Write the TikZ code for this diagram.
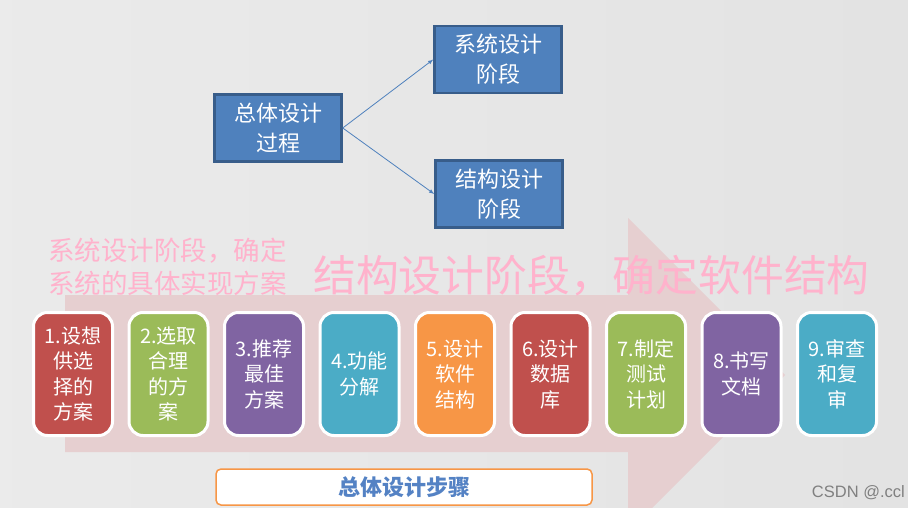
\documentclass[tikz,border=0pt]{standalone}
\usepackage{fontspec}
\setmainfont{Noto Sans CJK SC}
\newfontfamily\marksans{Liberation Sans}
\usetikzlibrary{positioning}

\definecolor{phaseblue}{RGB}{79,129,189}
\definecolor{phaseedge}{RGB}{56,93,138}
\definecolor{steprose}{RGB}{192,80,77}
\definecolor{stepgreen}{RGB}{155,187,89}
\definecolor{steppurple}{RGB}{128,100,162}
\definecolor{stepcyan}{RGB}{75,172,198}
\definecolor{steporange}{RGB}{247,150,70}
\definecolor{arrowpink}{RGB}{230,207,208}
\definecolor{notepink}{RGB}{255,178,204}
\definecolor{labelblue}{RGB}{84,130,196}

\tikzset{
  phasebox/.style = {draw = phaseedge, line width = 2.5pt, fill = phaseblue, text = white,
    minimum width = 127pt, minimum height = 67pt, align = center, inner sep = 0pt,
    font = \fontsize{22}{30}\selectfont},
  stepbox/.style = {draw = white, line width = 3pt, rounded corners = 14pt,
    minimum width = 79pt, minimum height = 123pt, text = white, align = center,
    inner sep = 0pt, font = \fontsize{20}{25.5}\selectfont},
  notetext/.style = {anchor = west, inner sep = 0pt, text = notepink, align = left},
  link/.style = {phaseblue, line width = 0.8pt, -latex},
}

\begin{document}
\begin{tikzpicture} [x = 1pt, y = -1pt]
	\useasboundingbox (0,0) rectangle (908,508);
	\shade [left color = gray!16, middle color = white, right color = gray!22] (0,0) rectangle (908,508);
	% big arrow behind the steps
	\begin{scope}
	\clip (0,0) rectangle (908,508);
	\fill [arrowpink] (65,295) -- (628,295) -- (628,218) -- (785,375) -- (628,532) -- (628,452) -- (65,452) -- cycle;
	\end{scope}

	\node [phasebox] (overall) at (278,128) {总体设计\\过程};
	\node [phasebox] (sysphase) at (498,59.5) {系统设计\\阶段};
	\node [phasebox] (structphase) at (499,194) {结构设计\\阶段};
	\draw [link] (overall.east) -- (sysphase.west);
	\draw [link] (overall.east) -- (structphase.west);

	\node [notetext, font = \fontsize{26.5}{33}\selectfont] (sysnote) at (48,266.5) {系统设计阶段，确定\\系统的具体实现方案};
	\node [notetext, font = \fontsize{42.8}{50}\selectfont] (structnote) at (313,276) {结构设计阶段，确定软件结构};

	\foreach \col/\txt [count = \i] in {steprose/{1.设想\\供选\\择的\\方案}, stepgreen/{2.选取\\合理\\的方\\案},
		steppurple/{3.推荐\\最佳\\方案}, stepcyan/{4.功能\\分解}, steporange/{5.设计\\软件\\结构},
		steprose/{6.设计\\数据\\库}, stepgreen/{7.制定\\测试\\计划}, steppurple/{8.书写\\文档},
		stepcyan/{9.审查\\和复\\审}}
		\node [stepbox, fill = \col] (step\i) at ({-22.5 + 95.5*\i},374) {\txt};

	\node [draw = steporange, line width = 1.5pt, rounded corners = 5pt, fill = white,
		minimum width = 376pt, minimum height = 36pt, text = labelblue,
		font = \fontsize{22}{26}\selectfont\bfseries] (steplabel) at (404,487) {总体设计步骤};
	\node [anchor = east, inner sep = 0pt, text = gray, font = \marksans\fontsize{16.5}{18}\selectfont] (mark) at (905,493) {CSDN @.ccl};
\end{tikzpicture}
\end{document}
